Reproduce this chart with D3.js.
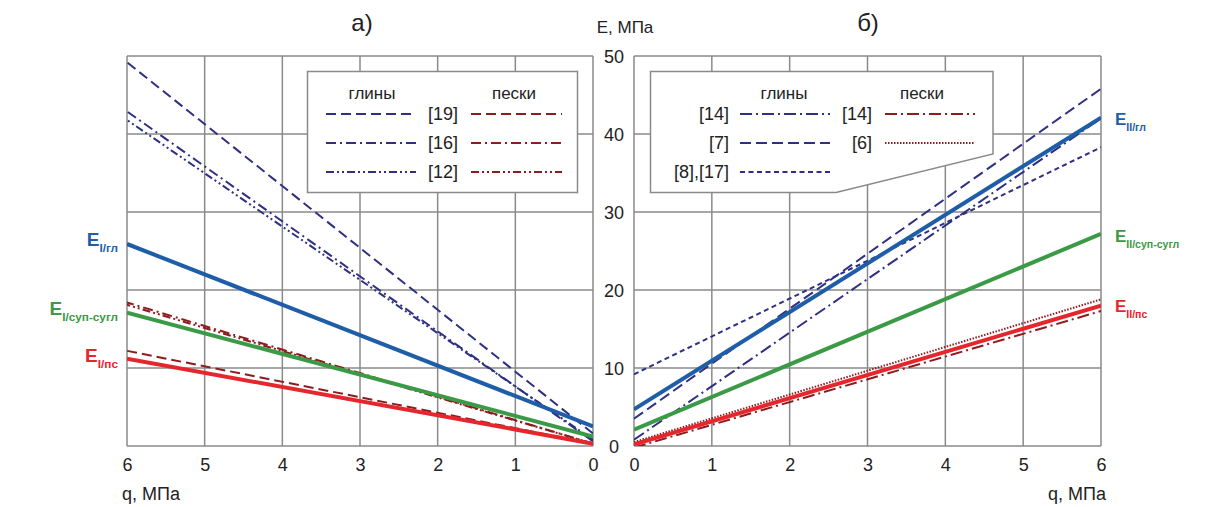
<!DOCTYPE html>
<html>
<head>
<meta charset="utf-8">
<script src="https://cdn.jsdelivr.net/npm/d3@7"></script>
<style>
  body { margin: 0; background: #fff; }
  svg text { font-family: "Liberation Sans", Arial, sans-serif; fill: #222; }
</style>
</head>
<body>
<div id="chart"></div>
<script>
// ---- data ----
const qTicks = [0, 1, 2, 3, 4, 5, 6];
const eTicks = [0, 10, 20, 30, 40, 50];
const qEnds = [0, 6];

// panel a): E at q = 0 and q = 6
const aNames = ["I/гл", "I/суп-сугл", "I/пс", "gl19", "gl16", "gl12", "ps19", "ps16", "ps12"];
const aE0 = [2.5, 1.2, 0.3, 1.6, 0.6, 0.8, 0.3, 0.3, 0.3];
const aE6 = [25.9, 17.1, 11.2, 49.2, 42.9, 41.8, 12.2, 18.4, 18.1];

// panel б)
const bNames = ["II/гл", "II/суп-сугл", "II/пс", "gl14", "gl7", "gl8_17", "ps14", "ps6"];
const bE0 = [4.7, 2.1, 0.2, 0.8, 3.5, 9.2, -0.2, 0.5];
const bE6 = [42.1, 27.2, 18.0, 42.0, 45.8, 38.3, 17.3, 18.8];

const aLegendRows = ["[19]", "[16]", "[12]"];
const bLegendLeft = ["[14]", "[7]", "[8],[17]"];
const bLegendRight = ["[14]", "[6]"];

// ---- styles ----
const BLUE = "#1e5ea8", GREEN = "#3a9a45", RED = "#e5262d", NAVY = "#2f3082", DRED = "#8e1c1f";
const styles = {
  "I/гл": {c: BLUE, w: 4}, "I/суп-сугл": {c: GREEN, w: 4}, "I/пс": {c: RED, w: 4},
  "II/гл": {c: BLUE, w: 4}, "II/суп-сугл": {c: GREEN, w: 4}, "II/пс": {c: RED, w: 4},
  gl19: {c: NAVY, w: 2, d: "10,5"}, gl16: {c: NAVY, w: 2, d: "10,4,2,4"}, gl12: {c: NAVY, w: 2, d: "8,3,2,3,2,3"},
  ps19: {c: DRED, w: 2, d: "10,5"}, ps16: {c: DRED, w: 2, d: "10,4,2,4"}, ps12: {c: DRED, w: 2, d: "8,3,2,3,2,3"},
  gl14: {c: NAVY, w: 2, d: "12,4,2,4"}, gl7: {c: NAVY, w: 2, d: "11,5"}, gl8_17: {c: NAVY, w: 2, d: "5,3.5"},
  ps14: {c: DRED, w: 2, d: "12,4,2,4"}, ps6: {c: DRED, w: 2, d: "1.5,1.5"}
};
const GRID = "#8a8a8a";

const width = 1214, height = 507;
const svg = d3.select("#chart").append("svg").attr("width", width).attr("height", height);

const y = d3.scaleLinear().domain([0, 50]).range([446, 56]);
const xA = d3.scaleLinear().domain([6, 0]).range([127, 593]);
const xB = d3.scaleLinear().domain([0, 6]).range([634, 1101]);

function panel(x, names, e0, e6, id) {
  const g = svg.append("g");
  const [x0, x1] = x.range().slice().sort((a, b) => a - b);
  svg.append("clipPath").attr("id", id).append("rect")
    .attr("x", x0).attr("y", y(50)).attr("width", x1 - x0).attr("height", y(0) - y(50));

  // grid
  g.selectAll(".vg").data(qTicks).join("line")
    .attr("x1", d => x(d)).attr("x2", d => x(d)).attr("y1", y(0)).attr("y2", y(50))
    .attr("stroke", GRID).attr("stroke-width", 1.5);
  g.selectAll(".hg").data(eTicks).join("line")
    .attr("x1", x0).attr("x2", x1).attr("y1", d => y(d)).attr("y2", d => y(d))
    .attr("stroke", GRID).attr("stroke-width", 1.5);

  // x tick labels
  const ax = g.append("g").attr("transform", `translate(0,${y(0)})`)
    .call(d3.axisBottom(x).tickValues(qTicks).tickSize(0).tickPadding(12).tickFormat(d3.format("d")));
  ax.select(".domain").remove();
  ax.selectAll("text").attr("font-size", 18).attr("fill", "#222")
    .style("font-family", "'Liberation Sans', Arial, sans-serif");

  const line = d3.line().x(d => x(d.q)).y(d => y(d.e));
  const lg = g.append("g").attr("clip-path", `url(#${id})`);
  // dashed reference lines first, thick main lines on top
  const order = names.map((n, i) => i).sort((a, b) => styles[names[a]].w - styles[names[b]].w);
  order.forEach(i => {
    const s = styles[names[i]];
    lg.append("path")
      .datum([{q: qEnds[0], e: e0[i]}, {q: qEnds[1], e: e6[i]}])
      .attr("d", line).attr("fill", "none")
      .attr("stroke", s.c).attr("stroke-width", s.w)
      .attr("stroke-dasharray", s.d || null);
  });
  return g;
}

const gA = panel(xA, aNames, aE0, aE6, "clipA");
const gB = panel(xB, bNames, bE0, bE6, "clipB");

// y tick labels between panels
svg.selectAll(".yl").data(eTicks).join("text")
  .attr("x", 614).attr("y", d => y(d) + 6.5)
  .attr("text-anchor", "middle").attr("font-size", 18).text(d => d);

// titles
svg.append("text").attr("x", 362).attr("y", 31).attr("text-anchor", "middle").attr("font-size", 24).text("а)");
svg.append("text").attr("x", 868).attr("y", 31).attr("text-anchor", "middle").attr("font-size", 24).text("б)");
svg.append("text").attr("x", 625).attr("y", 33).attr("text-anchor", "middle").attr("font-size", 17).text("E, МПа");
svg.append("text").attr("x", 122).attr("y", 500).attr("font-size", 18).text("q, МПа");
svg.append("text").attr("x", 1106).attr("y", 500).attr("text-anchor", "end").attr("font-size", 18).text("q, МПа");

// E labels
function eLabel(xp, yp, sub, color, anchor, size) {
  const t = svg.append("text").attr("x", xp).attr("y", yp).attr("text-anchor", anchor)
    .attr("font-weight", "bold").attr("fill", color).style("fill", color);
  t.append("tspan").attr("font-size", size).text("E");
  t.append("tspan").attr("font-size", size * 0.62).attr("dy", 6).text(sub);
}
eLabel(118, 246, aNames[0], BLUE, "end", 19);
eLabel(118, 315, aNames[1], GREEN, "end", 19);
eLabel(118, 362, aNames[2], RED, "end", 19);
eLabel(1115, 125, bNames[0], BLUE, "start", 17);
eLabel(1115, 242, bNames[1], GREEN, "start", 17);
eLabel(1115, 312, bNames[2], RED, "start", 17);

// legend a)
const legA = svg.append("g");
legA.append("rect").attr("x", 307.5).attr("y", 71.5).attr("width", 270).attr("height", 121)
  .attr("fill", "#fff").attr("stroke", GRID).attr("stroke-width", 1.5);
legA.append("text").attr("x", 372).attr("y", 99).attr("text-anchor", "middle").attr("font-size", 17).text("глины");
legA.append("text").attr("x", 514).attr("y", 99).attr("text-anchor", "middle").attr("font-size", 17).text("пески");
const rowY = [114, 143, 172];
aLegendRows.forEach((lab, i) => {
  legA.append("text").attr("x", 443).attr("y", rowY[i] + 6).attr("text-anchor", "middle").attr("font-size", 18).text(lab);
  const sg = styles[aNames[3 + i]], sp = styles[aNames[6 + i]];
  legA.append("line").attr("x1", 326).attr("x2", 416).attr("y1", rowY[i]).attr("y2", rowY[i])
    .attr("stroke", sg.c).attr("stroke-width", 2.2).attr("stroke-dasharray", sg.d);
  legA.append("line").attr("x1", 471).attr("x2", 562).attr("y1", rowY[i]).attr("y2", rowY[i])
    .attr("stroke", sp.c).attr("stroke-width", 2.2).attr("stroke-dasharray", sp.d);
});

// legend б)
const legB = svg.append("g");
legB.append("path").attr("d", "M650.5,71.5 H993 V154 L836,192.5 H650.5 Z")
  .attr("fill", "#fff").attr("stroke", GRID).attr("stroke-width", 1.5);
legB.append("text").attr("x", 784).attr("y", 99).attr("text-anchor", "middle").attr("font-size", 17).text("глины");
legB.append("text").attr("x", 922).attr("y", 99).attr("text-anchor", "middle").attr("font-size", 17).text("пески");
bLegendLeft.forEach((lab, i) => {
  legB.append("text").attr("x", 729).attr("y", rowY[i] + 6).attr("text-anchor", "end").attr("font-size", 18).text(lab);
  const s = styles[bNames[3 + i]];
  legB.append("line").attr("x1", 740).attr("x2", 830).attr("y1", rowY[i]).attr("y2", rowY[i])
    .attr("stroke", s.c).attr("stroke-width", 2.2).attr("stroke-dasharray", s.d);
});
bLegendRight.forEach((lab, i) => {
  legB.append("text").attr("x", 872).attr("y", rowY[i] + 6).attr("text-anchor", "end").attr("font-size", 18).text(lab);
  const s = styles[bNames[6 + i]];
  legB.append("line").attr("x1", 885).attr("x2", 975).attr("y1", rowY[i]).attr("y2", rowY[i])
    .attr("stroke", s.c).attr("stroke-width", 2.2).attr("stroke-dasharray", s.d);
});
</script>
</body>
</html>
